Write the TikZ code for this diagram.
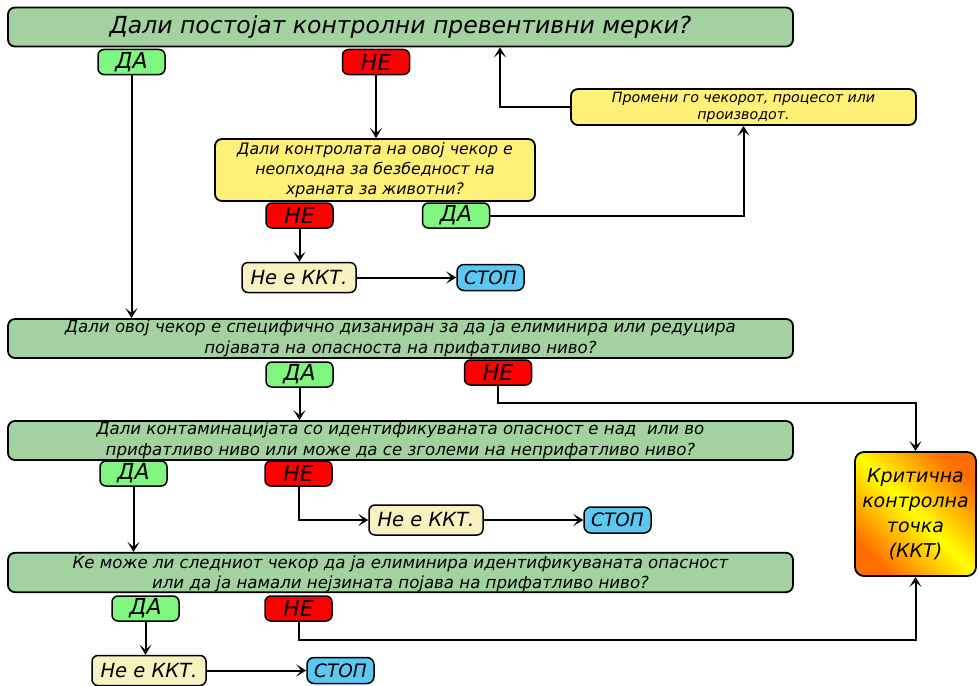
\documentclass[tikz,border=0pt]{standalone}
\usepackage{fontspec}
\setmainfont{DejaVu Sans}
\usetikzlibrary{arrows.meta}
\definecolor{qgreen}{RGB}{163,210,160}
\definecolor{yesgreen}{RGB}{128,245,128}
\definecolor{nored}{RGB}{255,0,0}
\definecolor{askyellow}{RGB}{255,240,120}
\definecolor{notbeige}{RGB}{247,242,192}
\definecolor{stopblue}{RGB}{90,200,240}
\definecolor{ccporange}{RGB}{255,110,0}

\begin{document}
\begin{tikzpicture}[x=1pt,y=-1pt]
  \tikzset{question/.style={draw=black,line width=1.8pt,rounded corners=7pt,fill=qgreen,minimum width=785pt,minimum height=39pt,inner sep=0pt,align=center,font=\fontsize{16.6}{20.5}\selectfont\itshape}}
  \tikzset{answer/.style={draw=black,line width=1.5pt,rounded corners=6pt,minimum width=67pt,minimum height=25pt,inner sep=0pt,font=\fontsize{22}{22}\selectfont\itshape}}
  \tikzset{yes/.style={answer,fill=yesgreen}}
  \tikzset{no/.style={answer,fill=nored}}
  \tikzset{notccp/.style={draw=black,line width=1.5pt,rounded corners=6pt,fill=notbeige,minimum width=114pt,minimum height=30pt,inner sep=0pt,font=\fontsize{19.5}{20}\selectfont\itshape}}
  \tikzset{stopbox/.style={draw=black,line width=1.5pt,rounded corners=7pt,fill=stopblue,minimum width=67pt,minimum height=26pt,inner sep=0pt,font=\fontsize{18.5}{20}\selectfont\itshape}}
  \tikzset{flow/.style={draw=black,line width=2pt,-{Stealth[open,length=10pt,width=12pt,inset=5pt]}}}
  \useasboundingbox (0,0) rectangle (979,685);
  % main questions
  \node[question,font=\fontsize{23.5}{26}\selectfont\itshape] (q1) at (400.5,27) {Дали постојат контролни превентивни мерки?};
  \node[question] (q2) at (400.5,338.5) {Дали овој чекор е специфично дизаниран за да ја елиминира или редуцира\\појавата на опасноста на прифатливо ниво?};
  \node[question] (q3) at (400.5,440.5) {Дали контаминацијата со идентификуваната опасност е над\ \ или во\\прифатливо ниво или може да се зголеми на неприфатливо ниво?};
  \node[question] (q4) at (400.5,572.5) {Ќе може ли следниот чекор да ја елиминира идентификуваната опасност\\или да ја намали нејзината појава на прифатливо ниво?};
  % side boxes
  \node[draw=black,line width=1.8pt,rounded corners=7pt,fill=askyellow,minimum width=320pt,minimum height=62pt,inner sep=0pt,align=center,font=\fontsize{15.8}{20}\selectfont\itshape] (need) at (375,170) {Дали контролата на овој чекор е\\неопходна за безбедност на\\храната за животни?};
  \node[draw=black,line width=1.8pt,rounded corners=7pt,fill=askyellow,minimum width=345pt,minimum height=36pt,inner sep=0pt,align=center,font=\fontsize{14.2}{17}\selectfont\itshape] (modify) at (743.5,107) {Промени го чекорот, процесот или\\производот.};
  \node[draw=black,line width=1.8pt,rounded corners=9pt,top color=ccporange,bottom color=ccporange,middle color=yellow,shading angle=-45,minimum width=121pt,minimum height=124pt,inner sep=0pt,align=center,font=\fontsize{19}{25}\selectfont\itshape] (ccp) at (915.5,514) {Критична\\контролна\\точка\\(ККТ)};
  % answers
  \node[yes] (y1) at (131.5,62) {ДА};
  \node[no] (n1) at (376,62) {НЕ};
  \node[no] (n2) at (299.5,215.5) {НЕ};
  \node[yes] (y2) at (456,215.5) {ДА};
  \node[yes] (y3) at (299.5,374.5) {ДА};
  \node[no] (n3) at (498,372.5) {НЕ};
  \node[yes] (y4) at (133.5,473.5) {ДА};
  \node[no] (n4) at (298.5,473.5) {НЕ};
  \node[yes] (y5) at (145.5,608.5) {ДА};
  \node[no] (n5) at (298.5,608.5) {НЕ};
  % not a CCP / stop
  \node[notccp] (nc1) at (299,277.5) {Не е ККТ.};
  \node[stopbox] (s1) at (490.5,277.5) {СТОП};
  \node[notccp] (nc2) at (426,520) {Не е ККТ.};
  \node[stopbox] (s2) at (617.5,520) {СТОП};
  \node[notccp] (nc3) at (149,670.5) {Не е ККТ.};
  \node[stopbox] (s3) at (340.5,670.5) {СТОП};
  % connectors
  \draw[flow] (y1) -- (y1 |- q2.north);
  \draw[flow] (n1) -- (n1 |- need.north);
  \draw[flow] (modify.west) -| (500,0 |- q1.south);
  \draw[flow] (y2) -| (modify.south);
  \draw[flow] (n2) -- (n2 |- nc1.north);
  \draw[flow] (nc1) -- (s1);
  \draw[flow] (y3) -- (y3 |- q3.north);
  \draw[flow] (n3) |- (498,403) -| (ccp.north);
  \draw[flow] (y4) -- (y4 |- q4.north);
  \draw[flow] (n4) |- (nc2);
  \draw[flow] (nc2) -- (s2);
  \draw[flow] (y5) -- (y5 |- nc3.north);
  \draw[flow] (nc3) -- (s3);
  \draw[flow] (n5) |- (298.5,640) -| (ccp.south);
\end{tikzpicture}
\end{document}
